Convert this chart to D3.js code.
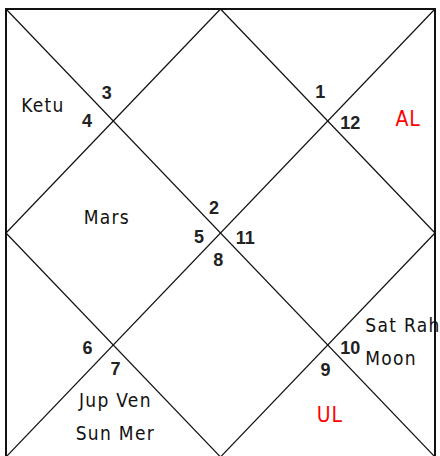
<!DOCTYPE html>
<html>
<head>
<meta charset="utf-8">
<script src="https://cdn.jsdelivr.net/npm/d3@7"></script>
<style>
  html, body { margin: 0; padding: 0; background: #fff; }
  svg { display: block; }
</style>
</head>
<body>
<div class="chart"></div>
<script>
// sign number in each house (house 1 = top diamond, counter-clockwise)
const houses = [1, 2, 3, 4, 5, 6, 7, 8, 9, 10, 11, 12];
const signs = [2, 3, 4, 5, 6, 7, 8, 9, 10, 11, 12, 1];
// planets sitting in each house, two per line
const planets = [[], [], ['Ketu'], ['Mars'], [], ['Jup', 'Ven', 'Sun', 'Mer'], [], [], ['Sat', 'Rah', 'Moon'], [], [], []];
// special lagnas (red)
const specials = ['AL', 'UL'];
const specialHouse = [11, 8];

const W = 440, H = 456;

// grid of the chart in quarter units (bottom edge falls just off the picture)
const x = d3.scaleLinear().domain([0, 4]).range([6, 435]);
const y = d3.scaleLinear().domain([0, 4]).range([9, 457]);

// where the sign number of each house goes (quarter units)
const numPos = [[1.94, 1.77], [0.94, 0.75], [0.755, 1.0], [1.8, 2.03], [0.76, 3.02], [1.02, 3.21],
  [1.98, 2.24], [2.98, 3.22], [3.21, 3.02], [2.23, 2.04], [3.21, 1.01], [2.93, 0.74]];
// where the planet text of each house goes
const planetPos = {
  3: { p: [0.345, 0.86], anchor: 'middle' },
  4: { p: [0.94, 1.86], anchor: 'middle' },
  6: { p: [1.02, 3.49], anchor: 'middle' },
  9: { p: [3.35, 2.82], anchor: 'start' }
};
const specialPos = { 11: [3.75, 0.98], 8: [3.02, 3.62] };

const svg = d3.select('.chart')
  .append('svg')
  .attr('width', W)
  .attr('height', H);

svg.append('rect')
  .attr('width', W).attr('height', H)
  .attr('fill', '#fff');

// diagonals and inner diamond
const lines = [
  [[0, 0], [4, 4]], [[4, 0], [0, 4]],
  [[2, 0], [0, 2]], [[0, 2], [2, 4]], [[2, 4], [4, 2]], [[4, 2], [2, 0]]
];
svg.append('g')
  .selectAll('line')
  .data(lines)
  .enter()
  .append('line')
  .attr('x1', d => x(d[0][0])).attr('y1', d => y(d[0][1]))
  .attr('x2', d => x(d[1][0])).attr('y2', d => y(d[1][1]))
  .attr('stroke', '#111')
  .attr('stroke-width', 1.2);

// outer square
svg.append('rect')
  .attr('x', x(0)).attr('y', y(0))
  .attr('width', x(4) - x(0)).attr('height', y(4) - y(0))
  .attr('fill', 'none')
  .attr('stroke', '#111')
  .attr('stroke-width', 2);

// sign numbers
svg.append('g')
  .selectAll('text')
  .data(houses)
  .enter()
  .append('text')
  .attr('x', h => x(numPos[h - 1][0]))
  .attr('y', h => y(numPos[h - 1][1]))
  .attr('dy', '0.36em')
  .attr('text-anchor', 'middle')
  .attr('font-family', 'Liberation Sans, Arial, sans-serif')
  .attr('font-weight', 'bold')
  .attr('font-size', 18)
  .attr('fill', '#222')
  .text(h => signs[h - 1]);

// planets, two names a line
const lineGap = 33;
houses.filter(h => planets[h - 1].length).forEach(h => {
  const names = planets[h - 1];
  const rows = d3.range(0, names.length, 2).map(i => names.slice(i, i + 2).join(' '));
  const pos = planetPos[h];
  svg.append('g')
    .selectAll('text')
    .data(rows)
    .enter()
    .append('text')
    .attr('x', x(pos.p[0]))
    .attr('y', (d, i) => y(pos.p[1]) + i * lineGap)
    .attr('dy', '0.36em')
    .attr('text-anchor', pos.anchor)
    .attr('font-family', 'Liberation Sans Narrow, DejaVu Sans Condensed, sans-serif')
    .attr('font-size', 19)
    .attr('letter-spacing', 1.3)
    .attr('fill', '#111')
    .text(d => d);
});

// AL / UL
svg.append('g')
  .selectAll('text')
  .data(specials)
  .enter()
  .append('text')
  .attr('x', (d, i) => x(specialPos[specialHouse[i]][0]))
  .attr('y', (d, i) => y(specialPos[specialHouse[i]][1]))
  .attr('dy', '0.36em')
  .attr('text-anchor', 'middle')
  .attr('font-family', 'Liberation Sans Narrow, DejaVu Sans Condensed, sans-serif')
  .attr('font-size', 21)
  .attr('letter-spacing', 1)
  .attr('fill', '#f00')
  .text(d => d);
</script>
</body>
</html>
